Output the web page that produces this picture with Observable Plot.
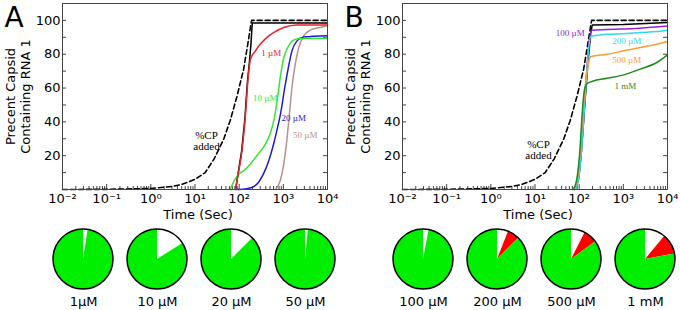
<!DOCTYPE html>
<html><head><meta charset="utf-8">
<script src="https://cdn.jsdelivr.net/npm/d3@7"></script>
<script src="https://cdn.jsdelivr.net/npm/@observablehq/plot@0.6"></script>
<style>
body{margin:0;background:#fff;}
#wrap{display:flex;width:680px;}
.panel{width:340px;}
.panel svg{display:block;}
</style></head><body><div id="wrap"></div>
<script>
// ---- axis ticks ----
const xTickValues = [0.01, 0.1, 1, 10, 100, 1000, 10000];
const xTickLabels = ["10⁻²", "10⁻¹", "10⁰", "10¹", "10²", "10³", "10⁴"];
const yTickValues = [20, 40, 60, 80, 100];
const yMinorTicks = [10, 20, 30, 40, 50, 60, 70, 80, 90, 100];

// ---- panel A series: [time (s), percent] ----
const cpAdded = [[0.01,0],[0.1,0.1],[1,0.6],[3,1.8],[5,3],[10,6],[17,10],[27,18],[45,30],[63,41],[89,55],[126,71],[166,90],[185,98],[192,100],[10000,100]];
const noCompA = [[83,0],[89,5],[114,23],[136,43],[152,62],[170,75],[185,86],[198,98.5],[10000,98.5]];
const comp1uM = [[83,0],[89,5],[116,23],[138,43],[155,62],[172,74],[180,77],[234,82],[302,86],[427,90],[603,92.8],[1023,95.8],[2042,97.3],[10000,97.3]];
const comp10uM = [[63,0],[76,5],[98,9.2],[126,11.1],[178,15],[251,20],[355,25],[501,32.8],[631,42.6],[741,54.4],[851,66.2],[1023,78],[1259,84],[1698,88.3],[2399,89.3],[10000,89.5]];
const comp20uM = [[89,0],[150,0.5],[214,1.7],[275,4.3],[355,9.2],[468,17],[603,26.9],[741,36.7],[891,46.6],[1047,58.4],[1259,70.2],[1567,82],[2042,87.9],[2884,90.2],[10000,91]];
const comp50uM = [[661,0],[851,5.2],[1023,15],[1175,26.9],[1349,42.6],[1567,60.3],[1862,74.1],[2239,84],[2884,90.8],[4074,94.2],[6761,95.8],[10000,96.8]];

// ---- panel B series ----
const noCompB = [[79,0],[95,5],[112,22],[132,48],[158,75],[182,92],[198,97.3],[1000,97.6],[10000,98.7]];
const comp100uM = [[79,0],[95,5],[112,22],[129,45],[148,70],[170,88],[191,94.2],[427,94.6],[2399,95.4],[10000,96.7]];
const comp200uM = [[79,0],[95,5],[112,22],[129,45],[145,65],[162,82],[182,90.5],[427,91.8],[1202,92.2],[2399,92.8],[5754,93.4],[10000,94.2]];
const comp500uM = [[74,0],[89,5],[105,22],[117,40],[132,57],[148,68],[166,76],[182,78.5],[427,80],[1023,82],[2399,84],[5754,85.9],[10000,87.5]];
const comp1mM = [[71,0],[83,3],[93,10],[105,25],[115,42],[126,55],[138,61],[158,63],[200,64],[427,65.8],[1023,67.8],[2399,71.2],[5754,75.1],[10000,79.6]];

// ---- curve annotations [time, percent, text] ----
const notesA = [[535,80.8,"1 µM"],[391,54.2,"10 µM"],[1722,42.4,"20 µM"],[3133,32.4,"50 µM"]];
const notesB = [[63,92.2,"100 µM"],[1200,87.5,"200 µM"],[1200,76.5,"500 µM"],[1107,61.3,"1 mM"]];
const cpNoteA = [[18.2,28.6,"%CP\nadded"]];
const cpNoteB = [[12,23.5,"%CP\nadded"]];

// ---- pie charts: fractions (white = free, red = other) ----
const pieLabelsA = ["1µM", "10 µM", "20 µM", "50 µM"];
const pieWhiteA = [0.025, 0.16, 0.125, 0.015];
const pieRedA = [0, 0, 0, 0];
const pieLabelsB = ["100 µM", "200 µM", "500 µM", "1 mM"];
const pieWhiteB = [0.03, 0.06, 0.075, 0.11];
const pieRedB = [0, 0.065, 0.075, 0.11];

const colorsA = ["#e8232a", "#33e633", "#1c1cd4", "#b89090"];
const colorsB = ["#9b20d0", "#30d8e8", "#f5a033", "#1e8c1e"];

const minorX = d3.range(-2, 4).flatMap(e => d3.range(2, 10).map(m => m * Math.pow(10, e)));
const FONT = "DejaVu Sans, sans-serif";
const SERIF = "Liberation Serif, Times New Roman, serif";

function lineChart(letter, noComp, comps, colors, notes, cpNote) {
  const W = 340, H = 224, mt = 3, mb = 35, ml = 62, mr = 13;
  const iw = W - ml - mr, ih = H - mt - mb;
  const axisColor = "#444";
  const marks = [
    Plot.tickX(xTickValues, {x: d => d, insetTop: ih - 5, stroke: axisColor}),
    Plot.tickX(minorX, {x: d => d, insetTop: ih - 3, stroke: axisColor}),
    Plot.tickY(yMinorTicks, {y: d => d, insetRight: iw - 4, stroke: axisColor}),
    Plot.tickY(yMinorTicks, {y: d => d, insetLeft: iw - 4, stroke: axisColor}),
    Plot.axisX(xTickValues, {tickSize: 0, tickPadding: 4, tickFormat: d => xTickLabels[xTickValues.indexOf(d)], label: null, fontSize: 13}),
    Plot.axisY(yTickValues, {tickSize: 0, tickPadding: 2, label: null, fontSize: 13}),
    Plot.line(cpAdded, {x: d => d[0], y: d => d[1], stroke: "#000", strokeWidth: 1.6, strokeDasharray: "5,3"}),
    Plot.line(noComp, {x: d => d[0], y: d => d[1], stroke: "#000", strokeWidth: 1.5})
  ];
  comps.forEach((s, i) => {
    marks.push(Plot.line(s, {x: d => d[0], y: d => d[1], stroke: colors[i], strokeWidth: 1.5, curve: "monotone-x"}));
  });
  notes.forEach((n, i) => {
    marks.push(Plot.text([n], {x: d => d[0], y: d => d[1], text: d => d[2], fill: colors[i], fontSize: 9, fontFamily: SERIF}));
  });
  marks.push(Plot.text(cpNote, {x: d => d[0], y: d => d[1], text: d => d[2], fill: "#000", fontSize: 11, fontFamily: SERIF, lineHeight: 1.0}));
  marks.push(Plot.frame({stroke: axisColor}));
  marks.push(Plot.text([letter], {frameAnchor: "top-left", dx: -48.5, dy: 4, textAnchor: "middle", lineAnchor: "top", fontSize: 28, fill: "#000"}));
  marks.push(Plot.text(["Precent Capsid\nContaining RNA 1"], {frameAnchor: "left", rotate: -90, dx: -44.5, lineHeight: 1.15, textAnchor: "middle", lineAnchor: "middle", fontSize: 13, fill: "#000"}));
  marks.push(Plot.text(["Time (Sec)"], {frameAnchor: "bottom", dy: 29, dx: 3, fontSize: 13, fill: "#000"}));
  return Plot.plot({
    width: W, height: H, marginTop: mt, marginBottom: mb, marginLeft: ml, marginRight: mr,
    style: {fontFamily: FONT, fontSize: "13px", background: "white", overflow: "visible", color: "#000"},
    x: {type: "log", domain: [0.01, 10000]},
    y: {domain: [0, 110]},
    marks
  });
}

function pieChart(labels, white, red) {
  const rows = labels.map((l, i) => ({label: l, white: white[i], red: red[i]}));
  const R = 30;
  return Plot.plot({
    width: 340, height: 86, margin: 0,
    style: {fontFamily: FONT, fontSize: "13px", background: "transparent", overflow: "visible", color: "#000"},
    x: {type: "point", domain: labels, range: [82, 306], padding: 0, axis: null},
    marks: [
      (index, scales, values, dims) => {
        const g = d3.create("svg:g");
        const arc = d3.arc().innerRadius(0).outerRadius(R);
        const pie = d3.pie().sort(null).value(d => d.v);
        for (const r of rows) {
          const cx = scales.x(r.label), cy = 35;
          const gg = g.append("g").attr("transform", `translate(${cx},${cy})`);
          const slices = pie([{v: r.white, c: "#ffffff"}, {v: r.red, c: "#ff0000"}, {v: 1 - r.white - r.red, c: "#00ee00"}]);
          gg.selectAll("path").data(slices).join("path").attr("d", arc).attr("fill", d => d.data.c);
          gg.append("circle").attr("r", R).attr("fill", "none").attr("stroke", "#000").attr("stroke-width", 1.5);
        }
        return g.node();
      },
      Plot.text(rows, {x: "label", text: "label", frameAnchor: "bottom", dy: -5, fontSize: 13, fill: "#000"})
    ]
  });
}

const wrap = document.getElementById("wrap");
const pA = document.createElement("div"); pA.className = "panel";
pA.append(lineChart("A", noCompA, [comp1uM, comp10uM, comp20uM, comp50uM].reverse(), colorsA.slice().reverse(), notesA.slice().reverse(), cpNoteA));
pA.append(pieChart(pieLabelsA, pieWhiteA, pieRedA));
const pB = document.createElement("div"); pB.className = "panel";
pB.append(lineChart("B", noCompB, [comp100uM, comp200uM, comp500uM, comp1mM], colorsB, notesB, cpNoteB));
pB.append(pieChart(pieLabelsB, pieWhiteB, pieRedB));
wrap.append(pA, pB);
</script>
</body></html>
